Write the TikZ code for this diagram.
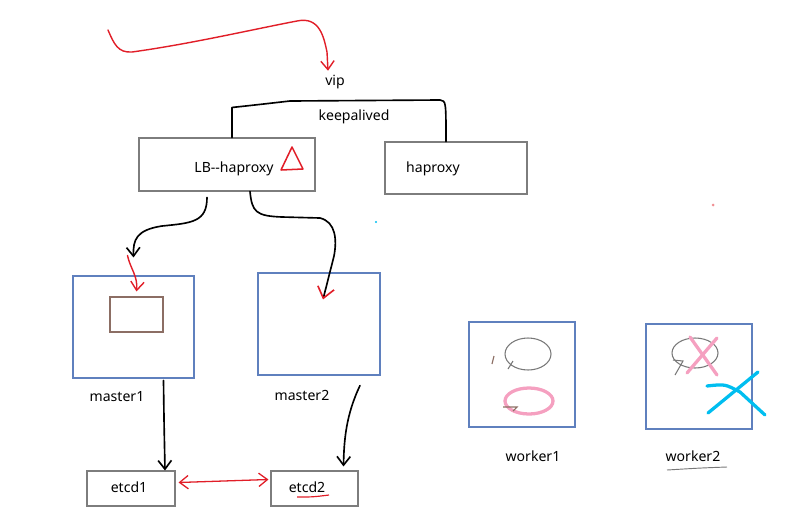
\documentclass[tikz,border=0pt]{standalone}
\usepackage{fontspec}
\setmainfont{Noto Sans}
\usetikzlibrary{arrows.meta,calc}

\definecolor{boxgray}{RGB}{125,125,125}
\definecolor{frameblue}{RGB}{95,128,190}
\definecolor{innerbrown}{RGB}{140,110,100}
\definecolor{inkred}{RGB}{225,30,40}
\definecolor{inkpink}{RGB}{245,160,192}
\definecolor{inkcyan}{RGB}{0,190,240}
\definecolor{sketchgray}{RGB}{120,120,120}

\begin{document}
\begin{tikzpicture}[
    x=0.03cm, y=-0.03cm,
    box/.style={rectangle, draw=boxgray, line width=0.9pt, inner sep=0pt},
    frame/.style={rectangle, draw=frameblue, line width=0.9pt, inner sep=0pt},
    lbl/.style={font=\fontsize{12}{14}\selectfont, inner sep=1pt},
    pen/.style={line width=1.4pt, draw=black, line cap=round, line join=round},
    arrow/.style={pen, -{Straight Barb[length=2.6mm, width=4mm]}},
    redarrow/.style={arrow, draw=inkred},
    marker/.style={line width=2.8pt, line cap=round}
]
\useasboundingbox (0,0) rectangle (810,527);

% Load balancers
\node[box, minimum width=5.28cm, minimum height=1.59cm] (lb) at (227,164.5) {};
\node[lbl] (lbtext) at (234,169) {LB-{}-haproxy};
\node[box, minimum width=4.26cm, minimum height=1.56cm] (hap) at (456,168) {};
\node[lbl] (haptext) at (433,169) {haproxy};
\node[lbl] (vip) at (335,82) {vip};
\node[lbl] (keep) at (354,117) {keepalived};

% Masters
\node[frame, minimum width=3.63cm, minimum height=3.06cm] (m1) at (133.5,327) {};
\node[rectangle, draw=innerbrown, line width=0.9pt, minimum width=1.59cm, minimum height=1.05cm] (inner) at (136.5,314.5) {};
\node[lbl] (m1text) at (117,397) {master1};
\node[frame, minimum width=3.66cm, minimum height=3.06cm] (m2) at (319,324) {};
\node[lbl] (m2text) at (302,395) {master2};

% Workers
\node[frame, minimum width=3.18cm, minimum height=3.15cm] (w1) at (522,374.5) {};
\node[lbl] (w1text) at (533,456) {worker1};
\node[frame, minimum width=3.18cm, minimum height=3.15cm] (w2) at (699,376.5) {};
\node[lbl] (w2text) at (693,456) {worker2};

% etcd
\node[box, minimum width=2.64cm, minimum height=1.05cm] (e1) at (131,488.5) {};
\node[lbl] (e1text) at (129,487) {etcd1};
\node[box, minimum width=2.61cm, minimum height=1.05cm] (e2) at (314.5,488.5) {};
\node[lbl] (e2text) at (307,487) {etcd2};

% Connections
\draw[redarrow, line width=1.2pt] (108,30) .. controls (114,44) and (118,53) .. (132,52)
    .. controls (190,44) and (250,30) .. (297,21)
    .. controls (320,16) and (324,38) .. (327,52) -- ($(vip.north)+(-7,-3)$);
\draw[pen] ($(lb.north)+(5,0)$) -- ++(0,-30) .. controls (255,105) .. (290,101)
    -- (440,100) .. controls (446,101) .. ($(hap.north)+(-10,0)$);

\draw[arrow] ($(lb.south)+(-20,6)$) .. controls (207,222) and (192,223) .. (162,226)
    .. controls (136,230) and (133,240) .. coordinate[pos=1] (m1tip) ($(m1.north)+(0,-18)$);
\draw[redarrow, line width=1.2pt] ($(m1tip)+(-6,-2)$) .. controls (130,268) and (138,276) .. ($(inner.north)+(0,-5)$);
\draw[pen, -{Straight Barb[length=3.2mm, width=5mm, color=inkred]}] ($(lb.south)+(23,0)$)
    .. controls (252,212) and (256,216) .. (282,217) -- (320,218)
    .. controls (336,222) and (337,240) .. (334,256) -- ($(m2.north)+(4,27)$);

\draw[arrow] ($(m1.south)+(30,2)$) .. controls (164,420) .. ($(e1.north)+(34,0)$);
\draw[arrow] ($(m2.south)+(41,10)$) .. controls (346,415) and (344,440) .. ($(e2.north)+(29,-4)$);
\draw[redarrow, line width=1.1pt, {Straight Barb[length=2.6mm, width=4mm]}-{Straight Barb[length=2.6mm, width=4mm]}]
    ($(e1.east)+(3,-6)$) -- ($(e2.west)+(-2,-9)$);

% Marks
\draw[inkred, line width=1.3pt, line join=round] (292,147) -- (281,170) -- (303,169) -- cycle;
\draw[inkred, line width=1pt] (297,497) .. controls (313,497) .. (329,495);
\draw[sketchgray, line width=0.8pt] (667,470) .. controls (700,468) .. (727,467);

\draw[sketchgray, line width=0.9pt] (528,354) ellipse [x radius=23, y radius=16];
\draw[sketchgray, line width=0.9pt] (508,369) -- (513,361);
\draw[innerbrown, line width=1pt] (492,364) -- (494,356);
\draw[inkpink, marker] (529,401) ellipse [x radius=24, y radius=13];
\draw[innerbrown, line width=0.9pt] (503,407) -- (517,407) -- (513,411);

\draw[sketchgray, line width=0.9pt] (695,353) ellipse [x radius=23, y radius=15];
\draw[sketchgray, line width=0.9pt] (673,360) -- (683,361) -- (675,375);
\draw[inkpink, marker] (690,337) -- (717,375);
\draw[inkpink, marker] (717,338) -- (687,373);
\draw[inkcyan, marker] (707,386) .. controls (725,384) .. (740,392) -- (765,415);
\draw[inkcyan, marker] (758,372) -- (708,413);

\fill[inkcyan] (376,222) circle [radius=1.2];
\fill[inkred!50] (713,205) circle [radius=1.5];
\end{tikzpicture}
\end{document}
